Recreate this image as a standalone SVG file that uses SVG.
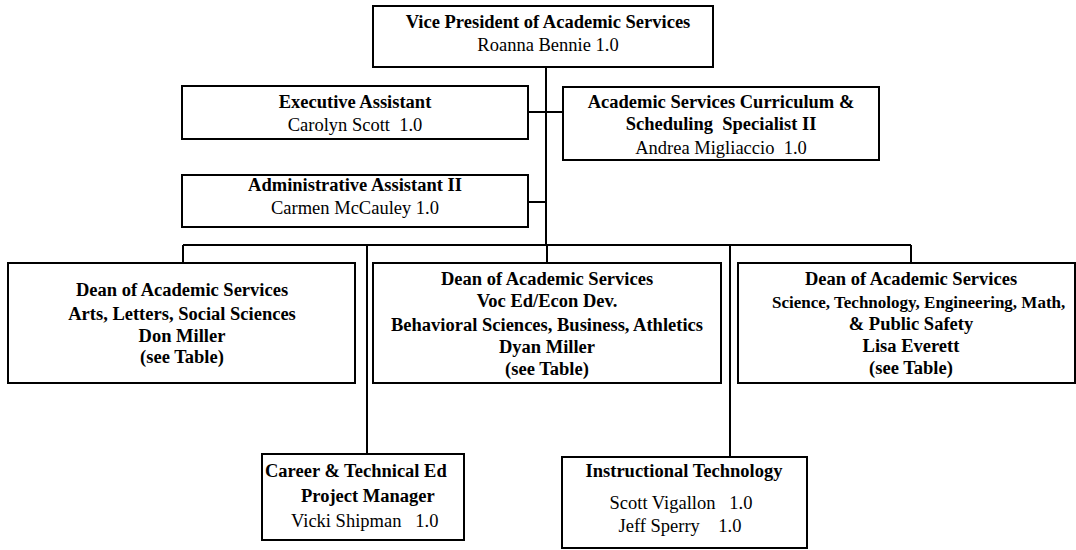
<svg xmlns="http://www.w3.org/2000/svg" width="1076" height="550" viewBox="0 0 1076 550">
<style>
.box{fill:#fff;stroke:#000;stroke-width:2}
.ln{fill:none;stroke:#000;stroke-width:2}
text{font-family:"Liberation Serif","Times New Roman",serif;font-size:18.5px;fill:#000;text-anchor:middle}
.b{font-weight:bold}
.s{text-anchor:start}
</style>
<rect width="1076" height="550" fill="#fff"/>
<g id="connectors">
<path class="ln" d="M546 67V245M528 112H563M528 202H546M183 245H911M183 245V263M547 245V263M911 245V263M367 245V454M730 245V457"/>
</g>
<g id="vp">
<rect class="box" x="373" y="6" width="340" height="61"/>
<text class="b" x="548" y="28">Vice President of Academic Services</text>
<text x="548" y="51">Roanna Bennie 1.0</text>
</g>
<g id="exec">
<rect class="box" x="182" y="86" width="346" height="53"/>
<text class="b" x="355" y="108">Executive Assistant</text>
<text x="355" y="131" xml:space="preserve">Carolyn Scott  1.0</text>
</g>
<g id="curric">
<rect class="box" x="563" y="87" width="316" height="73"/>
<text class="b" x="721" y="108">Academic Services Curriculum &amp;</text>
<text class="b" x="721" y="130" xml:space="preserve">Scheduling  Specialist II</text>
<text x="721" y="154" xml:space="preserve">Andrea Migliaccio  1.0</text>
</g>
<g id="admin">
<rect class="box" x="182" y="175" width="346" height="52"/>
<text class="b" x="355" y="191">Administrative Assistant II</text>
<text x="355" y="214">Carmen McCauley 1.0</text>
</g>
<g id="dean1">
<rect class="box" x="8" y="263" width="347" height="120"/>
<text class="b" x="182" y="296">Dean of Academic Services</text>
<text class="b" x="182" y="320">Arts, Letters, Social Sciences</text>
<text class="b" x="182" y="342">Don Miller</text>
<text class="b" x="182" y="363">(see Table)</text>
</g>
<g id="dean2">
<rect class="box" x="373" y="263" width="348" height="120"/>
<text class="b" x="547" y="285">Dean of Academic Services</text>
<text class="b" x="547" y="307">Voc Ed/Econ Dev.</text>
<text class="b" x="547" y="331">Behavioral Sciences, Business, Athletics</text>
<text class="b" x="547" y="353">Dyan Miller</text>
<text class="b" x="547" y="375">(see Table)</text>
</g>
<g id="dean3">
<rect class="box" x="738" y="263" width="337" height="120"/>
<text class="b" x="911" y="285">Dean of Academic Services</text>
<text class="b s" x="772" y="308" style="font-size:17px">Science, Technology, Engineering, Math,</text>
<text class="b" x="911" y="330">&amp; Public Safety</text>
<text class="b" x="911" y="352">Lisa Everett</text>
<text class="b" x="911" y="374">(see Table)</text>
</g>
<g id="career">
<rect class="box" x="262" y="454" width="202" height="86"/>
<text class="b s" x="265" y="477">Career &amp; Technical Ed</text>
<text class="b s" x="301" y="502">Project Manager</text>
<text class="s" x="291" y="527" xml:space="preserve">Vicki Shipman   1.0</text>
</g>
<g id="instr">
<rect class="box" x="562" y="457" width="245" height="91"/>
<text class="b" x="684" y="477">Instructional Technology</text>
<text x="681" y="509" xml:space="preserve">Scott Vigallon   1.0</text>
<text x="680" y="532" xml:space="preserve">Jeff Sperry    1.0</text>
</g>
</svg>
